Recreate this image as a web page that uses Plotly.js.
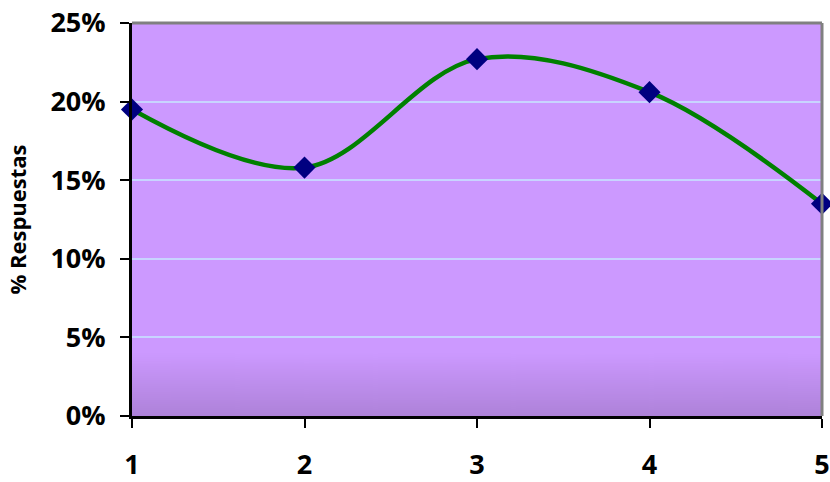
<!DOCTYPE html>
<html><head><meta charset="utf-8">
<script src="https://cdn.plot.ly/plotly-3.0.1.min.js"></script>
<style>html,body{margin:0;padding:0;background:#fff}#chart{width:830px;height:482px}</style>
</head><body><div id="chart"></div>
<script>
const categories = [1, 2, 3, 4, 5];
const respuestas = [0.195, 0.158, 0.227, 0.206, 0.135];
const yTickVals = [0, 0.05, 0.10, 0.15, 0.20, 0.25];
const yTickText = ['0%', '5%', '10%', '15%', '20%', '25%'];

// background gradient image (bottom darkening)
const cv = document.createElement('canvas');
cv.width = 10; cv.height = 400;
const ctx = cv.getContext('2d');
const g = ctx.createLinearGradient(0, 0, 0, 400);
g.addColorStop(0, '#CC99FF');
g.addColorStop(0.84, '#CC99FF');
g.addColorStop(1, '#AE82D9');
ctx.fillStyle = g; ctx.fillRect(0, 0, 10, 400);
const bg = cv.toDataURL();

const font = '"Open Sans", sans-serif';
const trace = {
  x: categories, y: respuestas, type: 'scatter', mode: 'lines+markers',
  line: {color: '#008000', width: 4.5, shape: 'spline', smoothing: 1},
  marker: {symbol: 'diamond', size: 17, color: '#000080'},
  cliponaxis: false, hoverinfo: 'skip'
};
const layout = {
  width: 830, height: 482,
  margin: {l: 132, r: 8, t: 23, b: 66},
  paper_bgcolor: '#FFFFFF', plot_bgcolor: '#CC99FF',
  showlegend: false,
  font: {family: font, color: '#000', size: 24},
  xaxis: {
    range: [1, 5], tickvals: categories, ticktext: categories.map(String),
    ticks: 'outside', ticklen: 9, tickwidth: 2, tickcolor: '#000',
    showline: true, linecolor: '#000', linewidth: 3, showgrid: false, zeroline: false,
    ticklabelstandoff: 14, tickfont: {family: font, size: 27, weight: 700, color: '#000'}
  },
  yaxis: {
    range: [0, 0.25], tickvals: yTickVals, ticktext: yTickText,
    ticks: 'outside', ticklen: 9, tickwidth: 2, tickcolor: '#000',
    showline: true, linecolor: '#000', linewidth: 3,
    showgrid: true, gridcolor: '#C8D4FF', gridwidth: 2, zeroline: false,
    ticklabelstandoff: 9, tickfont: {family: font, size: 27, weight: 700, color: '#000'},
    title: {text: '% Respuestas', font: {family: font, size: 22, weight: 700, color: '#000'}, standoff: 18}
  },
  images: [{source: bg, xref: 'paper', yref: 'paper', x: 0, y: 1, sizex: 1, sizey: 1,
            sizing: 'stretch', layer: 'below', xanchor: 'left', yanchor: 'top'}],
  shapes: [
    {type: 'line', xref: 'paper', yref: 'paper', x0: 0, x1: 1, y0: 1, y1: 1, line: {color: '#808080', width: 3}},
    {type: 'line', xref: 'paper', yref: 'paper', x0: 1, x1: 1, y0: 0, y1: 1, line: {color: '#808080', width: 3}}
  ]
};
Plotly.newPlot('chart', [trace], layout, {displayModeBar: false, staticPlot: true});
</script></body></html>
